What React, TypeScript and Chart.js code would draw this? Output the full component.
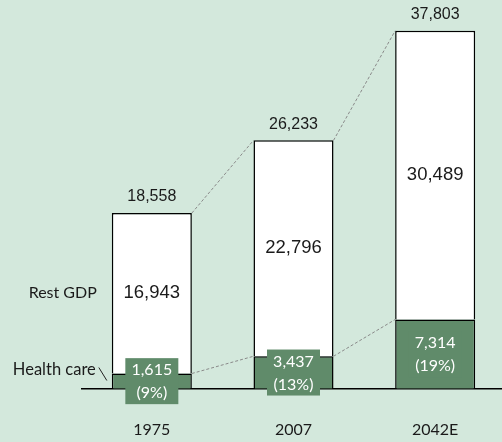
import React, { useEffect, useRef } from "react";
import { Chart, registerables } from "chart.js";
Chart.register(...registerables);

const categories = ["1975", "2007", "2042E"];
const healthCare = [1615, 3437, 7314];
const restGdp = [16943, 22796, 30489];
const healthShare = ["(9%)", "(13%)", "(19%)"];
const seriesNames = ["Health care", "Rest GDP"];

const BG = "#d3e8dc";
const GREEN = "#608b6a";
const TEXT = "#1a1a1a";
const LABEL_FONT = "Lato";
const NUM_FONT = "'Liberation Sans', Arial";

const fmt = (v: number) => v.toLocaleString("en-US");

const overlay = {
  id: "overlay",
  beforeDraw(chart: any) {
    const { ctx, width, height } = chart;
    ctx.save();
    ctx.fillStyle = BG;
    ctx.fillRect(0, 0, width, height);
    ctx.restore();
  },
  beforeDatasetsDraw(chart: any) {
    const { ctx, chartArea, width } = chart;
    const y0 = chart.scales.y.getPixelForValue(0);
    ctx.save();
    ctx.strokeStyle = "#000";
    ctx.lineWidth = 1.5;
    ctx.beginPath();
    ctx.moveTo(chartArea.left, y0);
    ctx.lineTo(width, y0);
    ctx.stroke();
    ctx.restore();
  },
  afterDatasetsDraw(chart: any) {
    const { ctx } = chart;
    const hMeta = chart.getDatasetMeta(0);
    const rMeta = chart.getDatasetMeta(1);
    ctx.save();
    // dashed connectors
    ctx.strokeStyle = "#8a8a8a";
    ctx.lineWidth = 1;
    ctx.setLineDash([3, 2]);
    [hMeta, rMeta].forEach((meta: any) => {
      for (let i = 0; i < meta.data.length - 1; i++) {
        const a = meta.data[i];
        const b = meta.data[i + 1];
        ctx.beginPath();
        ctx.moveTo(a.x + a.width / 2, a.y);
        ctx.lineTo(b.x - b.width / 2, b.y);
        ctx.stroke();
      }
    });
    ctx.setLineDash([]);

    ctx.textAlign = "center";
    ctx.textBaseline = "middle";
    // totals above + rest values
    rMeta.data.forEach((el: any, i: number) => {
      ctx.fillStyle = TEXT;
      ctx.font = `16px ${NUM_FONT}`;
      ctx.fillText(fmt(healthCare[i] + restGdp[i]), el.x, el.y - 16);
      ctx.font = `18.5px ${NUM_FONT}`;
      ctx.fillText(fmt(restGdp[i]), el.x, (el.y + el.base) / 2);
    });
    // health care boxes
    hMeta.data.forEach((el: any, i: number) => {
      const cy = (el.y + el.base) / 2;
      ctx.fillStyle = GREEN;
      ctx.fillRect(el.x - 26.5, cy - 23, 53, 46);
      ctx.fillStyle = "#ffffff";
      ctx.font = `16px ${LABEL_FONT}`;
      ctx.fillText(fmt(healthCare[i]), el.x, cy - 11);
      ctx.fillText(healthShare[i], el.x, cy + 12);
    });
    // left series labels
    const h0 = hMeta.data[0];
    const r0 = rMeta.data[0];
    const left = h0.x - h0.width / 2;
    ctx.fillStyle = TEXT;
    ctx.textAlign = "right";
    ctx.font = `16px ${LABEL_FONT}`;
    ctx.fillText(seriesNames[1], left - 15, (r0.y + r0.base) / 2);
    ctx.font = `16.5px ${LABEL_FONT}`;
    ctx.fillText(seriesNames[0], left - 16, h0.y - 4);
    ctx.strokeStyle = "#222";
    ctx.lineWidth = 1;
    ctx.beginPath();
    ctx.moveTo(left - 13, h0.y - 6);
    ctx.lineTo(left - 5, h0.y + 7);
    ctx.stroke();
    ctx.restore();
  },
};

export default function App() {
  const ref = useRef<HTMLCanvasElement>(null);
  useEffect(() => {
    document.body.style.margin = "0";
    const chart = new Chart(ref.current!, {
      type: "bar",
      data: {
        labels: categories,
        datasets: [
          {
            label: seriesNames[0],
            data: healthCare,
            backgroundColor: GREEN,
            borderColor: "#000",
            borderWidth: 1.5,
            borderSkipped: "bottom",
          },
          {
            label: seriesNames[1],
            data: restGdp,
            backgroundColor: "#ffffff",
            borderColor: "#000",
            borderWidth: 1.5,
            borderSkipped: "bottom",
          },
        ],
      },
      options: {
        animation: false,
        responsive: false,
        maintainAspectRatio: false,
        layout: { padding: { left: 81, right: 0, top: 10, bottom: 0 } },
        datasets: { bar: { categoryPercentage: 1, barPercentage: 0.565 } },
        plugins: { legend: { display: false }, tooltip: { enabled: false } },
        scales: {
          x: {
            stacked: true,
            grid: { display: false, drawTicks: false },
            border: { display: false },
            ticks: { color: TEXT, font: { family: LABEL_FONT, size: 16 }, padding: 31 },
          },
          y: { stacked: true, display: false, min: 0, max: 40000 },
        },
      },
      plugins: [overlay],
    });
    return () => chart.destroy();
  }, []);
  return (
    <div style={{ width: 502, height: 442, overflow: "hidden", position: "relative" }}>
      <canvas ref={ref} width={506} height={470} style={{ display: "block" }} />
    </div>
  );
}
